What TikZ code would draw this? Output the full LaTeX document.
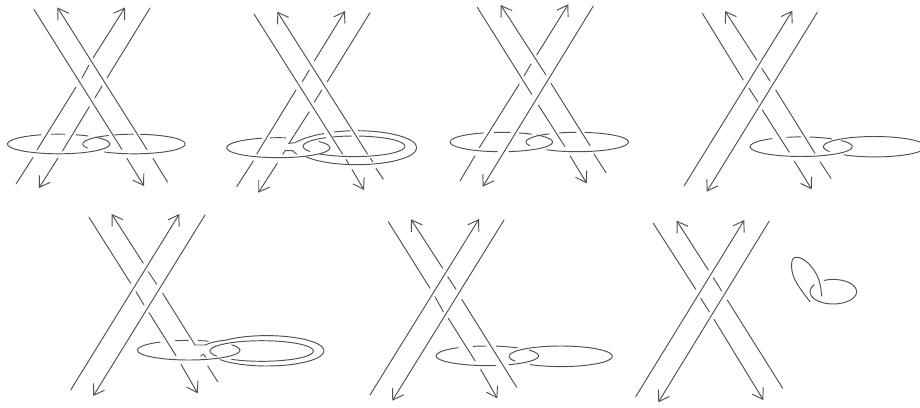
\documentclass[tikz,border=0pt]{standalone}
\usepackage{xcolor}
\usetikzlibrary{arrows.meta}
\definecolor{inkstrand}{HTML}{505050}
\tikzset{strand/.style={draw=inkstrand,line width=.95pt,line cap=round},
  strandarrow/.style={strand,-{Straight Barb[length=10pt,width=13pt]}}}
\newcommand{\ringpart}[6]{\draw[strand] (#1,#2) ++(#5:#3 and #4) arc (#5:#6:#3 and #4);}
\begin{document}
\begin{tikzpicture}[x=1pt,y=-1pt]
\useasboundingbox (0,0) rectangle (920,407);
\begin{scope}[shift={(0,0)}]
\draw[strand] (34,9.5)--(122,149.5); \draw[strandarrow] (127,158.5)--(144,186);
\draw[strand] (167.5,182)--(153,158.5); \draw[strandarrow] (147,149.5)--(57.5,7.5);
\draw[strand] (16,184)--(33,157.5); \draw[strand] (37,150)--(76,87); \draw[strand] (82,78)--(89,65); \draw[strandarrow] (93,58)--(125,7.5);
\draw[strand] (150,8)--(107,78); \draw[strand] (102,86)--(95,97.7); \draw[strand] (89.3,106.7)--(62.5,151); \draw[strandarrow] (58,158)--(39,188);
\ringpart{58.7}{144}{51.3}{9.8}{250}{-44} \ringpart{58.7}{144}{51.3}{9.8}{262}{277} \ringpart{58.7}{144}{51.3}{9.8}{290}{305}
\ringpart{134}{144}{51.3}{9.8}{277.5}{485} \ringpart{134}{144}{51.3}{9.8}{248}{269} \ringpart{134}{144}{51.3}{9.8}{240}{155}
\end{scope}
\begin{scope}[shift={(220,0)}]
\draw[strand] (34,14)--(122.5,154); \draw[strand] (126,159.5)--(128.5,163.5); \draw[strandarrow] (132,169.5)--(144,190);
\draw[strand] (163.3,179.3)--(156,168.3); \draw[strand] (152.7,161.7)--(150.5,158.5); \draw[strandarrow] (147.5,154)--(57.3,11.7);
\draw[strand] (16.7,186.7)--(33.3,161); \draw[strand] (36.7,154)--(76,90); \draw[strand] (82.3,81.7)--(89.3,70); \draw[strandarrow] (94.3,61)--(125,11);
\draw[strand] (150,12.7)--(107.3,81.7); \draw[strand] (101.7,90)--(94.3,102.3);
\draw[strand] (89.3,111.7)--(69,143.3)--(75,142.7) .. controls (82,139) and (90,136) .. (104,133.5);
\draw[strand] (62.7,154.3)--(65,150.7)--(72.7,150.7)--(76.7,154.3); \draw[strandarrow] (57.3,163.3)--(38.3,192.7);
\ringpart{58.3}{147.7}{51.7}{10}{251}{-38} \ringpart{58.3}{147.7}{51.7}{10}{261}{278.5}
\ringpart{134}{146.3}{51}{10.3}{276}{492} \ringpart{134}{146.3}{51}{10.3}{246}{267} \ringpart{134}{146.3}{51}{10.3}{236.7}{150}
\ringpart{136.7}{147.7}{60}{17}{271.5}{507.6} \ringpart{136.7}{147.7}{60}{17}{248}{264}
\end{scope}
\begin{scope}[shift={(440,0)}]
\draw[strand] (37.3,7.3)--(91.7,94.3); \draw[strand] (98.3,105)--(125,146.7); \draw[strandarrow] (130,155.7)--(146.7,183.3);
\draw[strand] (166,172.7)--(154,154); \draw[strand] (150,145.7)--(111,83.3); \draw[strandarrow] (106,75)--(60.7,5);
\draw[strand] (20,181)--(35,155.7); \draw[strand] (39.3,147.7)--(79.3,84); \draw[strand] (84,76)--(91,64); \draw[strandarrow] (96.7,55)--(128.3,4.3);
\draw[strandarrow] (153.3,6)--(42.7,186.7);
\ringpart{61.3}{142}{51.3}{9.7}{249.5}{94.5} \ringpart{61.3}{142}{51.3}{9.7}{81.4}{-46} \ringpart{61.3}{142}{51.3}{9.7}{262}{280} \ringpart{61.3}{142}{51.3}{9.7}{290.5}{306}
\ringpart{137.2}{142}{51.3}{9.7}{278.7}{486.5} \ringpart{137.2}{142}{51.3}{9.7}{249.7}{268.7} \ringpart{137.2}{142}{51.3}{9.7}{236.6}{157}
\end{scope}
\begin{scope}[shift={(670,0)}]
\draw[strand] (32.3,13.3)--(73.3,80); \draw[strand] (79,88.3)--(87.7,101.7); \draw[strand] (92.3,110)--(119.3,152.3); \draw[strandarrow] (124.3,161)--(141.7,189.3);
\draw[strand] (161,178.3)--(150,161.7); \draw[strand] (145,153.3)--(105.7,90); \draw[strand] (100,81)--(91.7,68.3); \draw[strandarrow] (86.7,60)--(55,11);
\draw[strandarrow] (14,186)--(122.3,10.7); \draw[strandarrow] (147.3,12.3)--(36.7,191.7);
\ringpart{131.2}{146.7}{51.2}{9.8}{235}{-38} \ringpart{131.2}{146.7}{51.2}{9.8}{253.6}{269.4} \ringpart{131.2}{146.7}{51.2}{9.8}{279.8}{306.6}
\ringpart{204.5}{146.7}{51.2}{10.2}{152}{333} \ringpart{204.5}{146.7}{51.2}{10.2}{27}{126.6}
\end{scope}
\begin{scope}[shift={(60,205)}]
\draw[strand] (29,12.3)--(70.7,78.3); \draw[strand] (76,86.7)--(84,100); \draw[strand] (89,107.7)--(116,150.7); \draw[strandarrow] (121,159.3)--(137.7,188.3);
\draw[strand] (157.7,176.7)--(147.7,161); \draw[strand] (140.7,151)--(143.3,149.3)--(146,152.3);
\draw[strand] (166.7,135) .. controls (158,136) and (150,137.5) .. (145,140)--(135,140)--(102.7,88.3);
\draw[strand] (96.7,79.3)--(88.3,66.7); \draw[strandarrow] (83.3,58.3)--(51.7,9);
\draw[strandarrow] (10.7,185)--(119.3,9); \draw[strandarrow] (145,10)--(33.3,191);
\ringpart{128.7}{145.2}{51.3}{9.8}{236}{-33} \ringpart{128.7}{145.2}{51.3}{9.8}{254.6}{269.6} \ringpart{128.7}{145.2}{51.3}{9.8}{280.8}{292.5}
\ringpart{201.7}{146}{51.7}{10.3}{125.5}{-210}
\ringpart{206.7}{145.8}{57.3}{15.2}{144.5}{-134}
\end{scope}
\begin{scope}[shift={(360,205)}]
\draw[strand] (28.3,16.7)--(70,83.3); \draw[strand] (75,91.7)--(83.3,106.7); \draw[strand] (88.3,113.3)--(115,155.7); \draw[strandarrow] (120.7,164.3)--(137.3,193.3);
\draw[strand] (156.7,182.3)--(101.7,94.3); \draw[strand] (96,84.3)--(87.7,71.7); \draw[strandarrow] (82.7,63.3)--(51,14.3);
\draw[strandarrow] (10,190)--(119,14); \draw[strandarrow] (144,15)--(32.3,195.7);
\ringpart{127.3}{150.8}{51.3}{9.8}{235.6}{80.7} \ringpart{127.3}{150.8}{51.3}{9.8}{65}{-35} \ringpart{127.3}{150.8}{51.3}{9.8}{254}{269} \ringpart{127.3}{150.8}{51.3}{9.8}{280}{306}
\ringpart{200.7}{151.3}{51.7}{10.3}{152}{486.4}
\end{scope}
\begin{scope}[shift={(630,205)}]
\draw[strand] (23.3,18.3)--(65.7,84.3); \draw[strand] (70.7,93.3)--(79.3,106.7); \draw[strandarrow] (84,114.3)--(133.3,195);
\draw[strand] (152.7,183.3)--(97.3,95); \draw[strand] (91.7,86)--(83.3,72.7); \draw[strandarrow] (78.3,65)--(46.7,15.7);
\draw[strandarrow] (5.7,191.7)--(114.3,15); \draw[strandarrow] (139.3,16)--(28.3,197.3);
\draw[strand] plot[smooth,tension=.7] coordinates {(191.7,91) (188.3,73.3) (178.3,58.3) (166.7,52.3) (161.7,58.3) (165,75) (180,96.7)};
\ringpart{203.3}{86.7}{23.3}{12.3}{247}{575}
\end{scope}
\end{tikzpicture}
\end{document}
